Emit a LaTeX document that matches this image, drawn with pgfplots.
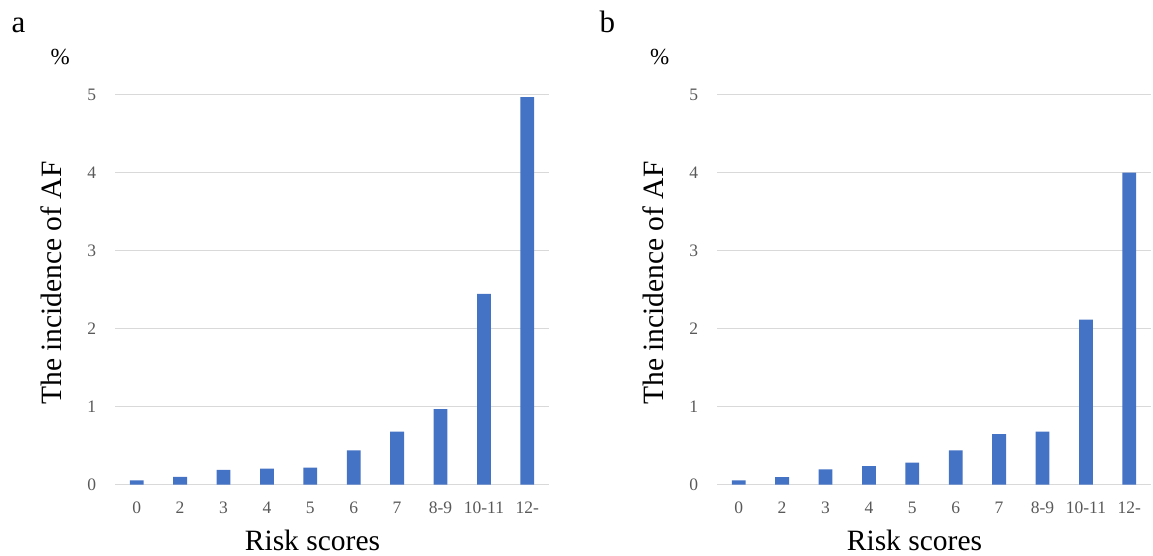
\documentclass[border=0pt]{standalone}
\usepackage{fontspec}
\setmainfont{Liberation Serif}
\usepackage{pgfplots}
\pgfplotsset{compat=1.18}
\definecolor{barblue}{HTML}{4472C4}
\definecolor{tickgray}{HTML}{595959}
\definecolor{gridgray}{HTML}{D9D9D9}
\pgfplotsset{
  riskaxis/.style={
    scale only axis, width=434pt, height=390pt,
    xmin=-0.5, xmax=9.5, ymin=0, ymax=5,
    ytick={0,1,2,3,4,5}, xtick={0,...,9},
    xticklabels={0,2,3,4,5,6,7,8-9,10-11,12-},
    major tick length=0pt,
    axis line style={draw=none},
    ymajorgrids, grid style={color=gridgray, line width=1.3pt},
    ybar, bar width=13.8pt, clip=false,
    /pgf/number format/assume math mode=true,
    tick label style={font=\fontsize{17.5}{20}\selectfont, text=tickgray, inner sep=0pt},
    yticklabel style={anchor=center, xshift=-23.3pt},
    xticklabel style={anchor=base, yshift=-28.3pt},
    xlabel={Risk scores}, ylabel={The incidence of AF},
    label style={font=\fontsize{29.5}{32}\selectfont, inner sep=0pt},
    xlabel style={at={(axis description cs:0.455,-0.168)}, anchor=base},
    ylabel style={at={(axis description cs:-0.1244,0.517)}, anchor=base, rotate=0},
  }
}
\begin{document}
\begin{tikzpicture}
\path[use as bounding box] (0,0) rectangle (1153pt,555pt);
\begin{axis}[riskaxis, at={(115pt,70.3pt)}, anchor=south west]
\addplot[fill=barblue, draw=none] coordinates {
(0,0.055) (1,0.10) (2,0.19) (3,0.205) (4,0.22) (5,0.44) (6,0.68) (7,0.97) (8,2.445) (9,4.97)};
\end{axis}
\begin{axis}[riskaxis, at={(717pt,70.3pt)}, anchor=south west]
\addplot[fill=barblue, draw=none] coordinates {
(0,0.055) (1,0.096) (2,0.196) (3,0.237) (4,0.283) (5,0.44) (6,0.648) (7,0.68) (8,2.117) (9,4.0)};
\end{axis}
\node[anchor=base west, inner sep=0pt, font=\fontsize{31}{34}\selectfont] at (11.5pt,522.3pt) {a};
\node[anchor=base west, inner sep=0pt, font=\fontsize{31}{34}\selectfont] at (599.5pt,522.3pt) {b};
\node[anchor=base west, inner sep=0pt, font=\fontsize{23}{26}\selectfont] at (50.5pt,490pt) {\%};
\node[anchor=base west, inner sep=0pt, font=\fontsize{23}{26}\selectfont] at (650pt,490pt) {\%};
\end{tikzpicture}
\end{document}
